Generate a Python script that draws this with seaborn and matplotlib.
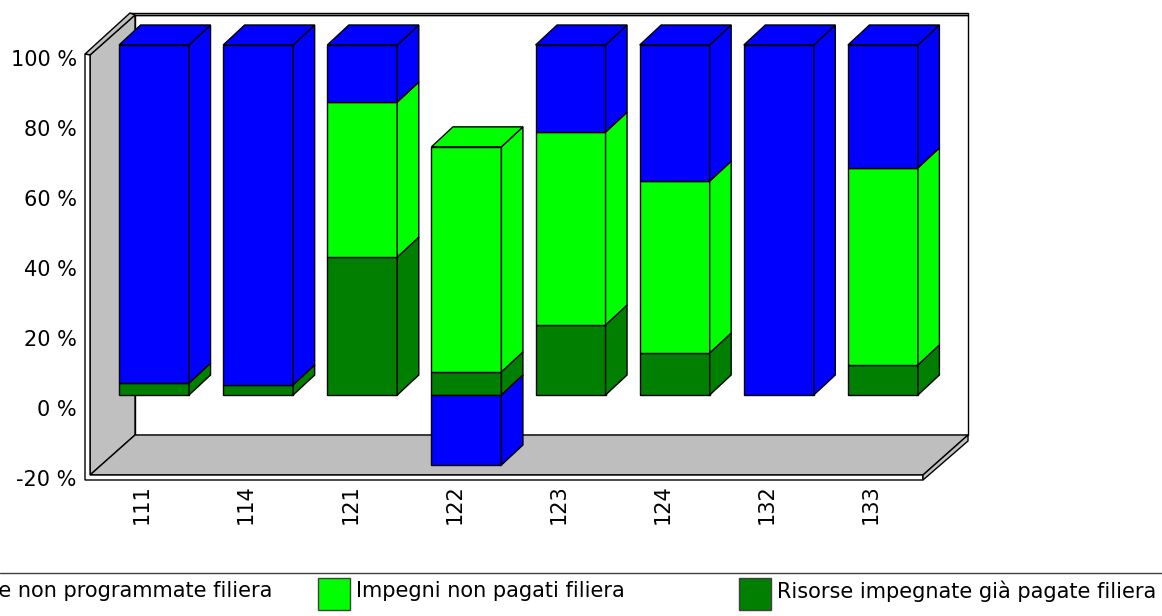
import numpy as np
import pandas as pd
import matplotlib
matplotlib.use("Agg")
import matplotlib.pyplot as plt
from matplotlib.patches import Polygon, Rectangle
from matplotlib.transforms import Affine2D
import seaborn as sns

# values
codes = ["111", "114", "121", "122", "123", "124", "132", "133"]
paid = [3.4, 2.9, 39.4, 6.6, 20.0, 12.0, 0.0, 8.6]
unpaid = [0.0, 0.0, 44.3, 64.3, 55.1, 49.1, 0.0, 56.3]
unprogrammed = [96.6, 97.1, 16.3, -20.0, 24.9, 38.9, 100.0, 35.1]
series_names = ["Risorse non programmate filiera", "Impegni non pagati filiera", "Risorse impegnate già pagate filiera"]
y_ticks = [-20, 0, 20, 40, 60, 80, 100]

BLUE = "#0000FF"
LIGHT = "#00FF00"
DARK = "#007F00"
GREY = "#C0C0C0"
W, H = 1162, 616

sns.set_style("white")
plt.rcParams["font.family"] = ["DejaVu Sans"]
FS = 15

fig = plt.figure(figsize=(W / 100, H / 100), dpi=100)

# background axes in pixels, for the box and the legend
bg = fig.add_axes([0, 0, 1, 1])
bg.set_xlim(0, W)
bg.set_ylim(H, 0)
bg.axis("off")


def poly(pts, fc):
    bg.add_patch(Polygon(pts, closed=True, fc=fc, ec="black", lw=1))


poly([(135, 15), (968, 15), (968, 435), (135, 435)], "white")
poly([(130, 13), (968, 13), (968, 15), (130, 15)], GREY)
poly([(90, 55), (135, 15), (135, 435), (90, 475)], GREY)
poly([(90, 475), (135, 435), (968, 435), (923, 475)], "#BEBEBE")
poly([(85, 54), (130, 13), (135, 15), (90, 55)], GREY)
poly([(85, 54), (90, 55), (90, 475), (923, 475), (923, 480), (85, 480)], "white")
poly([(923, 475), (968, 435), (968, 441), (923, 480)], GREY)

# legend strip, first entry runs off the left edge like in the original
bg.plot([0, W], [573, 573], color="#404040", lw=1)
for i, (name, col) in enumerate(zip(series_names, [BLUE, LIGHT, DARK])):
    x0 = 318 + 421 * (i - 1)
    bg.add_patch(Rectangle((x0, 578), 32, 32, fc=col, ec="#404040", lw=1))
    bg.text(x0 + 38, 591, name, fontsize=FS, va="center", ha="left", color="black")

# main axes = front plane of the box
ax = fig.add_axes([90 / W, 1 - 475.5 / H, 833 / W, 420 / H])
ax.patch.set_alpha(0)

paid_a = np.array(paid)
unpaid_a = np.array(unpaid)
unprog_a = np.array(unprogrammed)
base = paid_a + unpaid_a
blue_bottom = np.where(unprog_a > 0, base, 0)

layers = [
    (paid_a, np.zeros(len(codes)), DARK),
    (unpaid_a, paid_a, LIGHT),
    (unprog_a, blue_bottom, BLUE),
]
for height, bottom, col in layers:
    df = pd.DataFrame({"code": codes, "value": height})
    sns.barplot(data=df, x="code", y="value", color=col, saturation=1, width=0.672,
                bottom=bottom, edgecolor="black", linewidth=1, errorbar=None, ax=ax)

ax.set_xlim(-0.5, 7.5)
ax.set_ylim(-20, 100)
ax.set_xlabel("")
ax.set_ylabel("")
ax.set_yticks(y_ticks)
ax.set_yticklabels([f"{v} %" for v in y_ticks], fontsize=FS)
ax.tick_params(axis="x", labelrotation=90, labelsize=FS, length=0, pad=6, labelcolor="black")
ax.tick_params(axis="y", length=0, pad=9.5, labelcolor="black")
sns.despine(ax=ax, left=True, bottom=True)
for t in ax.get_yticklabels():
    t.set_transform(t.get_transform() + Affine2D().translate(0, -2))

# push bars back into the box and draw side and top faces
shift = ax.transData + Affine2D().translate(12, 10.5)
dx = 21.5 / (833 / 8)
dy = 20 / 3.5
bars = [p for p in ax.patches if isinstance(p, Rectangle)]
tops = {}
for p in bars:
    key = round(p.get_x() + p.get_width() / 2)
    top = max(p.get_y(), p.get_y() + p.get_height())
    tops[key] = max(tops.get(key, -999), top)

for p in bars:
    h = p.get_height()
    if abs(h) < 0.01:
        p.set_visible(False)
        continue
    p.set_transform(shift)
    p.set_clip_on(False)
    x0 = p.get_x()
    x1 = x0 + p.get_width()
    lo = min(p.get_y(), p.get_y() + h)
    hi = max(p.get_y(), p.get_y() + h)
    col = p.get_facecolor()
    side = Polygon([(x1, lo), (x1 + dx, lo + dy), (x1 + dx, hi + dy), (x1, hi)],
                   closed=True, fc=col, ec="black", lw=1, transform=shift, clip_on=False, zorder=p.get_zorder())
    ax.add_patch(side)
    key = round((x0 + x1) / 2)
    if hi == tops[key]:
        lid = Polygon([(x0, hi), (x1, hi), (x1 + dx, hi + dy), (x0 + dx, hi + dy)],
                      closed=True, fc=col, ec="black", lw=1, transform=shift, clip_on=False, zorder=p.get_zorder())
        ax.add_patch(lid)

fig.savefig("out.png", dpi=100)
